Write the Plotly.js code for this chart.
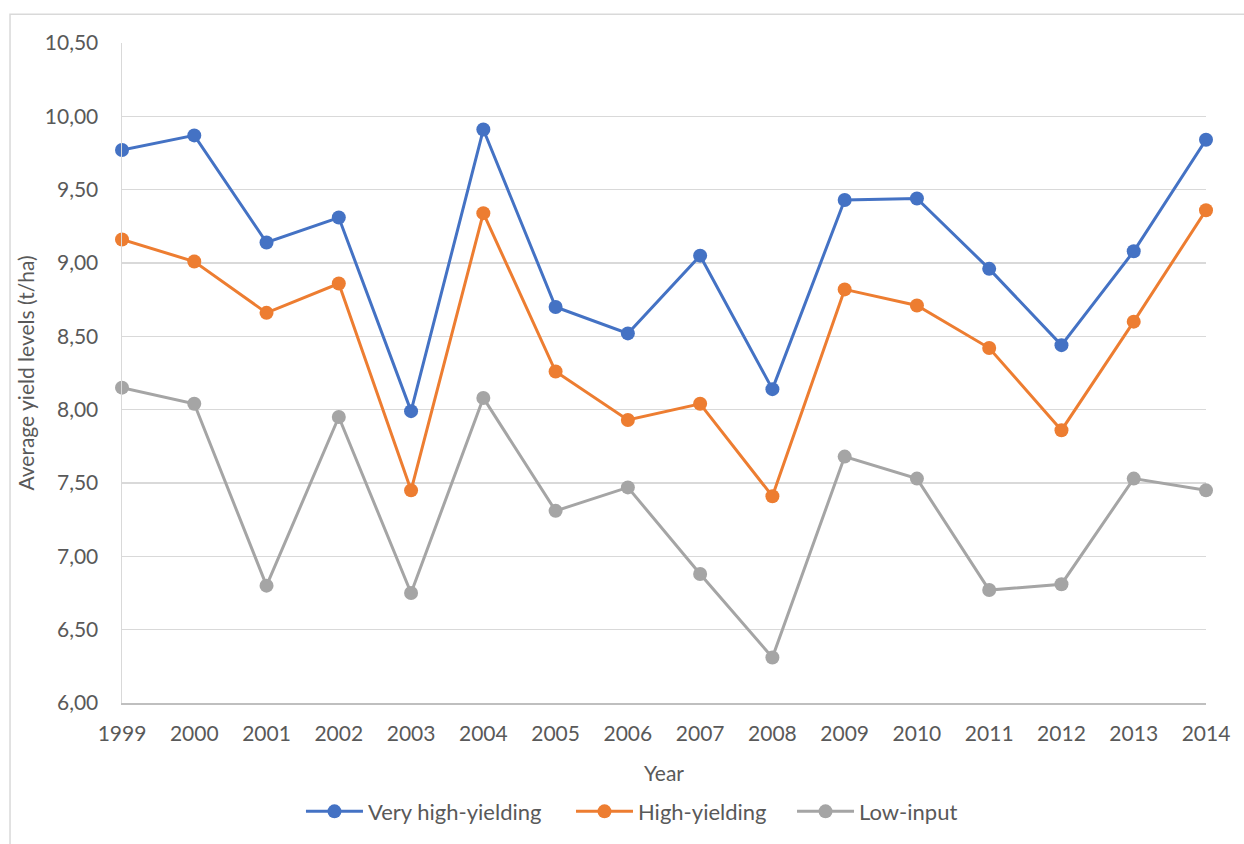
<!DOCTYPE html>
<html>
<head>
<meta charset="utf-8">
<script src="https://cdn.plot.ly/plotly-3.0.1.min.js"></script>
<style>
  html, body { margin: 0; padding: 0; background: #ffffff; }
  #chart { width: 1244px; height: 844px; }
</style>
</head>
<body>
<div id="chart"></div>
<script>
const years = [1999, 2000, 2001, 2002, 2003, 2004, 2005, 2006, 2007, 2008, 2009, 2010, 2011, 2012, 2013, 2014];
const veryHighYielding = [9.77, 9.87, 9.14, 9.31, 7.99, 9.91, 8.70, 8.52, 9.05, 8.14, 9.43, 9.44, 8.96, 8.44, 9.08, 9.84];
const highYielding = [9.16, 9.01, 8.66, 8.86, 7.45, 9.34, 8.26, 7.93, 8.04, 7.41, 8.82, 8.71, 8.42, 7.86, 8.60, 9.36];
const lowInput = [8.15, 8.04, 6.80, 7.95, 6.75, 8.08, 7.31, 7.47, 6.88, 6.31, 7.68, 7.53, 6.77, 6.81, 7.53, 7.45];
const seriesNames = ["Very high-yielding", "High-yielding", "Low-input"];
const seriesColors = ["#4472C4", "#ED7D31", "#A5A5A5"];
const yTicks = [6.0, 6.5, 7.0, 7.5, 8.0, 8.5, 9.0, 9.5, 10.0, 10.5];
const xTitle = "Year";
const yTitle = "Average yield levels (t/ha)";

const FONT = "Lato, 'Open Sans', 'Liberation Sans', sans-serif";
const TXT = "#595959";

const legendIds = ["legend", "legend2", "legend3"];
const legendX = [0.1651, 0.4142, 0.6181];

const seriesData = [veryHighYielding, highYielding, lowInput];
const traces = seriesData.map((vals, i) => ({
  type: "scatter",
  mode: "lines+markers",
  name: seriesNames[i],
  legend: legendIds[i],
  x: years,
  y: vals,
  line: { color: seriesColors[i], width: 3 },
  marker: { color: seriesColors[i], size: 14 },
  cliponaxis: false
}));

function legendCfg(x) {
  return {
    orientation: "h",
    x: x,
    xanchor: "left",
    y: -0.1645,
    yanchor: "middle",
    bgcolor: "rgba(0,0,0,0)",
    font: { family: FONT, size: 22, color: TXT },
    itemwidth: 57
  };
}

const layout = {
  width: 1244,
  height: 844,
  margin: { l: 122, r: 38, t: 43, b: 141 },
  paper_bgcolor: "#ffffff",
  plot_bgcolor: "#ffffff",
  separators: ",.",
  font: { family: FONT, size: 21, color: TXT },
  showlegend: true,
  legend: legendCfg(legendX[0]),
  legend2: legendCfg(legendX[1]),
  legend3: legendCfg(legendX[2]),
  xaxis: {
    range: [years[0], years[years.length - 1]],
    tickvals: years,
    ticktext: years.map(String),
    showgrid: false,
    zeroline: false,
    showline: true,
    linecolor: "#BFBFBF",
    linewidth: 1.5,
    ticks: "",
    ticklabelstandoff: 11,
    tickfont: { family: FONT, size: 21, color: TXT },
    title: { text: xTitle, font: { family: FONT, size: 21, color: TXT }, standoff: 22 }
  },
  yaxis: {
    range: [yTicks[0], yTicks[yTicks.length - 1]],
    tickvals: yTicks,
    tickformat: ".2f",
    showgrid: true,
    gridcolor: "#D9D9D9",
    gridwidth: 1.5,
    zeroline: false,
    showline: true,
    linecolor: "#D9D9D9",
    linewidth: 1.5,
    ticks: "",
    ticklabelstandoff: 18,
    tickfont: { family: FONT, size: 21, color: TXT },
    title: { text: yTitle, font: { family: FONT, size: 21, color: TXT }, standoff: 4 }
  },
  shapes: [{
    type: "rect",
    xref: "paper", yref: "paper",
    x0: -0.1033, x1: 1.05,
    y0: -0.25, y1: 1.0434,
    line: { color: "#D9D9D9", width: 1.5 },
    fillcolor: "rgba(0,0,0,0)",
    layer: "below"
  }]
};

Plotly.newPlot("chart", traces, layout, { displayModeBar: false, staticPlot: true });
</script>
</body>
</html>
